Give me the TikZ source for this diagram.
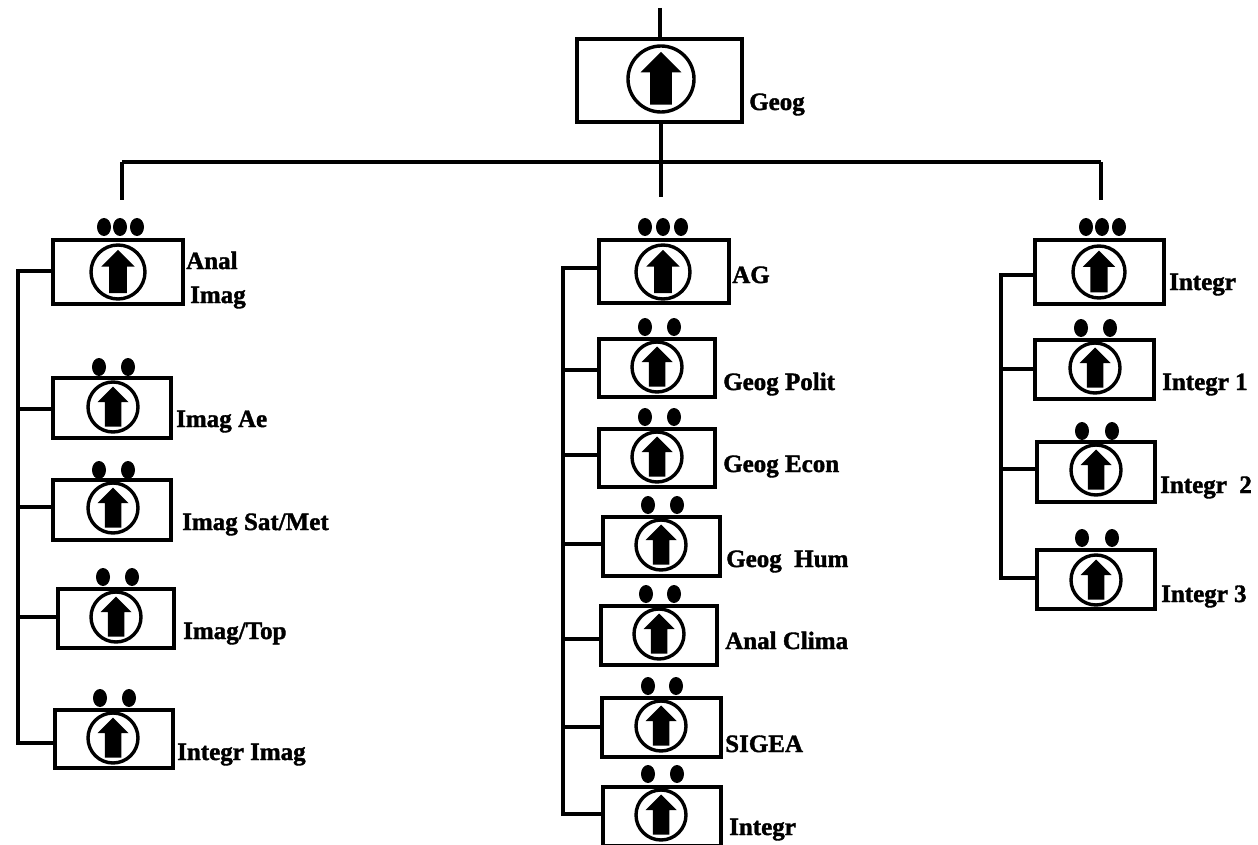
\documentclass[tikz,border=0pt]{standalone}
\usepackage{fontspec}
\setmainfont[BoldFeatures={FakeBold=1.5}]{Liberation Serif}
\tikzset{
  ubx/.style={draw=black,line width=3.6pt,fill=white,inner sep=0pt,rectangle},
  ucirc/.style={draw=black,line width=3.4pt,fill=white,inner sep=0pt,circle},
  uwire/.style={draw=black,line width=3.4pt,line cap=butt,line join=miter},
  ulabel/.style={anchor=base west,inner sep=0pt,font=\bfseries\fontsize{25}{27}\selectfont,text=black}
}
% name, left, top, right, bottom, circle x, circle y, radius
\newcommand\ubox[8]{%
  \pgfmathsetmacro\uw{#4-#2}\pgfmathsetmacro\uh{#5-#3}%
  \pgfmathsetmacro\ucx{(#2+#4)/2}\pgfmathsetmacro\ucy{(#3+#5)/2}%
  \pgfmathsetmacro\ud{2*#8}%
  \node[ubx,minimum width=\uw pt,minimum height=\uh pt] (#1) at (\ucx,\ucy) {};
  \node[ucirc,minimum size=\ud pt] (#1c) at (#6,#7) {};
  \begin{scope}[shift={(#6,#7)},x=#8pt,y=#8pt]
    \fill[black] (0,0.82)--(0.62,0.2)--(0.33,0.2)--(0.33,-0.78)--(-0.33,-0.78)--(-0.33,0.2)--(-0.62,0.2)--cycle;
  \end{scope}
}
\newcommand\udots[2]{\foreach \ux in {#2}{\fill[black] (\ux,#1) ellipse [x radius=7,y radius=9];}}
\newcommand\ulab[4]{\node[ulabel] (#1) at (#2,#3) {#4};}
% bus x, name, y
\newcommand\ustub[3]{\coordinate (#2s) at (#1,#3); \draw[uwire] (#2s) -- (#2s -| #2.west);}
\begin{document}
\begin{tikzpicture}[x=1pt,y=-1pt]
\useasboundingbox (0,0) rectangle (1258,845);
% top bus
\coordinate (top) at (660,8);
\coordinate (busL) at (122,162);
\coordinate (busM) at (661,162);
\coordinate (busR) at (1101,162);
\coordinate (dropL) at (122,200);
\coordinate (dropM) at (661,197);
\coordinate (dropR) at (1101,200);
\draw[uwire] (busL)--(busR);
\draw[uwire] (busL)--(dropL);
\draw[uwire] (busM)--(dropM);
\draw[uwire] (busR)--(dropR);
% side buses
\coordinate (la) at (18,269.3); \coordinate (lb) at (18,744.7);
\coordinate (ma) at (563,266.3); \coordinate (mb) at (563,815.7);
\coordinate (ra) at (1001,273.3); \coordinate (rb) at (1001,579.7);
\draw[uwire] (la)--(lb);
\draw[uwire] (ma)--(mb);
\draw[uwire] (ra)--(rb);
% root
\ubox{geog}{577}{39}{742}{122}{661}{79}{33}
\draw[uwire] (top) -- (top |- geog.north);
\draw[uwire] (geog.south -| busM) -- (busM);
\ulab{lgeog}{749}{110}{Geog}
% left column
\ubox{anal}{53}{240}{183}{304}{118}{272}{27}
\udots{227}{104,120,137}
\ustub{18}{anal}{271}
\ulab{lanal}{186}{269}{Anal}
\ulab{limag}{190}{303}{Imag}
\ubox{ae}{53}{378}{171}{438}{113}{407}{25}
\udots{367}{99,128}
\ustub{18}{ae}{409}
\ulab{lae}{176}{427}{Imag Ae}
\ubox{sat}{53}{480}{171}{540}{113}{508}{25}
\udots{470}{99,128}
\ustub{18}{sat}{507}
\ulab{lsat}{182}{530}{Imag Sat/Met}
\ubox{itop}{58}{589}{174}{648}{116}{617}{25}
\udots{577}{103,132}
\ustub{18}{itop}{617}
\ulab{ltop}{183}{639}{Imag/Top}
\ubox{iimag}{55}{710}{173}{768}{113}{738}{25}
\udots{698}{100,129}
\ustub{18}{iimag}{743}
\ulab{liimag}{177}{760}{Integr Imag}
% middle column
\ubox{ag}{599}{240}{729}{303}{663}{272}{27}
\udots{227}{645,663,681}
\ustub{563}{ag}{268}
\ulab{lag}{732}{283}{AG}
\ubox{pol}{599}{339}{715}{397}{657}{367}{25}
\udots{327}{645,674}
\ustub{563}{pol}{370}
\ulab{lpol}{723}{390}{Geog Polit}
\ubox{eco}{599}{429}{715}{487}{657}{457}{25}
\udots{417}{645,674}
\ustub{563}{eco}{455}
\ulab{leco}{723}{472}{Geog Econ}
\ubox{hum}{603}{517}{720}{576}{661}{545}{25}
\udots{505}{648,677}
\ustub{563}{hum}{544}
\ulab{lhum}{726}{567}{Geog\ \ Hum}
\ubox{cli}{601}{606}{717}{665}{659}{634}{25}
\udots{594}{646,674}
\ustub{563}{cli}{639}
\ulab{lcli}{725}{649}{Anal Clima}
\ubox{sig}{602}{698}{721}{757}{661}{726}{25}
\udots{686}{648,676}
\ustub{563}{sig}{727}
\ulab{lsig}{725}{752}{SIGEA}
\ubox{mint}{603}{787}{721}{846}{661}{815}{25}
\udots{774}{648,677}
\ustub{563}{mint}{814}
\ulab{lmint}{729}{835}{Integr}
% right column
\ubox{rint}{1035}{240}{1164}{304}{1099}{272}{26}
\udots{227}{1086,1102,1119}
\ustub{1001}{rint}{275}
\ulab{lrint}{1169}{290}{Integr}
\ubox{rone}{1035}{340}{1154}{399}{1095}{368}{25}
\udots{328}{1081,1110}
\ustub{1001}{rone}{369}
\ulab{lrone}{1162}{390}{Integr 1}
\ubox{rtwo}{1037}{442}{1155}{502}{1096}{470}{25}
\udots{431}{1082,1112}
\ustub{1001}{rtwo}{469}
\ulab{lrtwo}{1160}{493}{Integr\ \ 2}
\ubox{rthr}{1037}{550}{1155}{609}{1096}{580}{25}
\udots{538}{1082,1112}
\ustub{1001}{rthr}{578}
\ulab{lrthr}{1161}{602}{Integr 3}
\end{tikzpicture}
\end{document}
